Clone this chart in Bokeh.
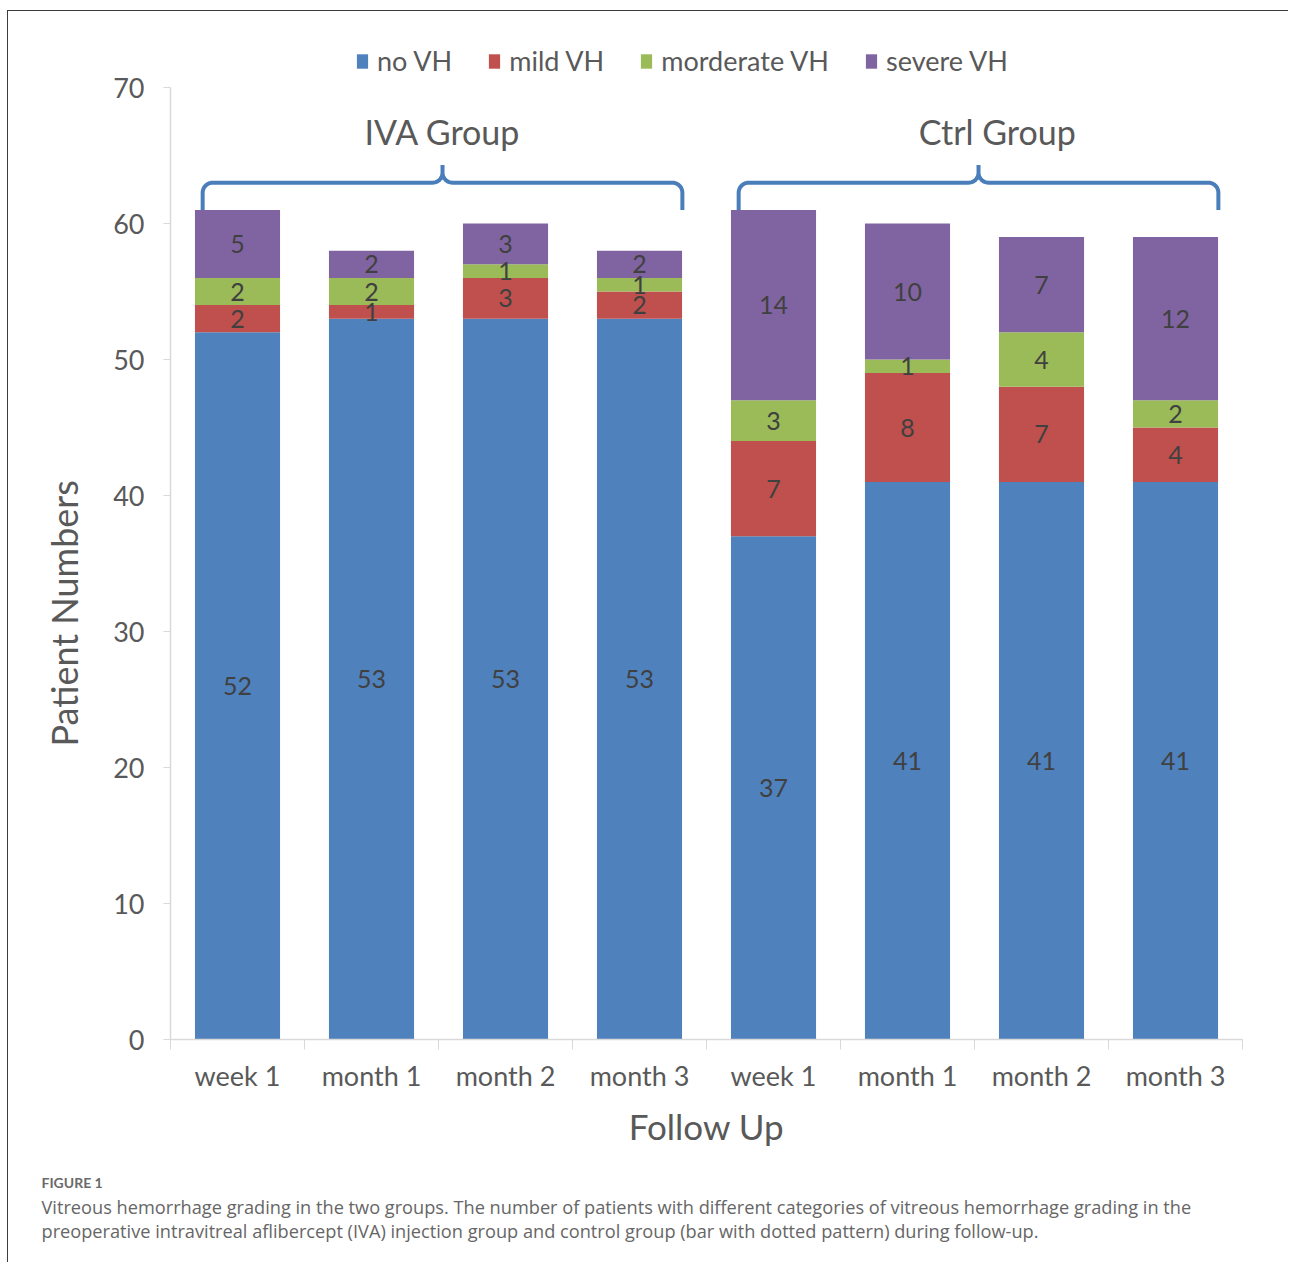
import math
from bokeh.plotting import figure
from bokeh.models import (ColumnDataSource, Range1d, FixedTicker, Legend, LegendItem,
                          Label, Title)
from bokeh.core.properties import value
from bokeh.embed import file_html
from bokeh.resources import INLINE

# ---------------- data ----------------
categories = ["week 1", "month 1", "month 2", "month 3",
              "week 1", "month 1", "month 2", "month 3"]
groups = ["IVA Group", "Ctrl Group"]
series = ["no VH", "mild VH", "morderate VH", "severe VH"]
no_vh = [52, 53, 53, 53, 37, 41, 41, 41]
mild_vh = [2, 1, 3, 2, 7, 8, 7, 4]
moderate_vh = [2, 2, 1, 1, 3, 1, 4, 2]
severe_vh = [5, 2, 3, 2, 14, 10, 7, 12]
y_ticks = [0, 10, 20, 30, 40, 50, 60, 70]

colors = ["#4f81bd", "#c0504d", "#9bbb59", "#8064a2"]
FONT = "Lato"
TXT = "#595959"

values = [no_vh, mild_vh, moderate_vh, severe_vh]
keys = ["s0", "s1", "s2", "s3"]
xs = [i + 0.5 for i in range(len(categories))]
data = {"x": xs}
for k, v in zip(keys, values):
    data[k] = v
src = ColumnDataSource(data)

W, H = 1281, 1252
Y_MAX = y_ticks[-1]
Y_TOP = Y_MAX + 76 / 13.6   # head room above the axis for legend/labels
p = figure(width=W, height=H, output_backend="svg", toolbar_location=None,
           x_range=Range1d(0, len(categories)), y_range=Range1d(0, Y_TOP),
           min_border_left=162, min_border_right=47, min_border_top=0,
           min_border_bottom=224)
p.styles = {"margin-left": "7px", "margin-top": "10px",
            "border-left": "1.5px solid #3c3c3c", "border-top": "1.5px solid #3c3c3c"}
p.outline_line_color = None
p.xgrid.visible = False
p.ygrid.visible = False
p.background_fill_color = "white"
p.border_fill_color = "white"

renderers = p.vbar_stack(keys, x="x", width=0.635, source=src, color=colors,
                         line_color=None)

# data labels
lab_x, lab_y, lab_t = [], [], []
for i in range(len(categories)):
    base = 0
    for v in values:
        val = v[i]
        lab_x.append(xs[i])
        lab_y.append(base + val / 2)
        lab_t.append(str(val))
        base += val
p.text(x=lab_x, y=lab_y, text=lab_t, text_align="center", text_baseline="middle",
       text_font=value(FONT), text_font_size="25px", text_color="#404040")

# braces and group labels
def brace(x0, x1, yb=63.0, yt=61.0, ypk=64.3, rpx=10):
    rx = rpx / 134.0
    ry = rpx / 13.6
    xc = (x0 + x1) / 2
    n = 12
    pxs, pys = [x0], [yt]
    for j in range(n + 1):
        t = j / n * math.pi / 2
        pxs.append(x0 + rx - rx * math.cos(t)); pys.append(yb - ry + ry * math.sin(t))
    for j in range(n + 1):
        t = j / n * math.pi / 2
        pxs.append(xc - rx + rx * math.sin(t)); pys.append(yb + ry - ry * math.cos(t))
    pxs.append(xc); pys.append(ypk)
    for j in range(n + 1):
        t = j / n * math.pi / 2
        pxs.append(xc + rx * (1 - math.cos(t))); pys.append(yb + ry - ry * math.sin(t))
    for j in range(n + 1):
        t = j / n * math.pi / 2
        pxs.append(x1 - rx + rx * math.sin(t)); pys.append(yb - ry + ry * math.cos(t))
    pxs.append(x1); pys.append(yt)
    return pxs, pys

for g, name in enumerate(groups):
    x0 = g * 4 + 0.24
    x1 = g * 4 + 3.82
    bx, by = brace(x0, x1)
    p.line(bx, by, line_color="#4a7ebb", line_width=4)
    tx = (x0 + x1) / 2 + (0.0 if g == 0 else 0.14)
    p.add_layout(Label(x=tx, y=66.8, text=name, text_align="center",
                       text_baseline="middle", text_font=FONT,
                       text_font_size="34px", text_color=TXT))

# axes
ax = p.xaxis[0]
ax.ticker = FixedTicker(ticks=xs, minor_ticks=list(range(len(categories) + 1)))
ax.major_label_overrides = {x: c for x, c in zip(xs, categories)}
ax.major_tick_out = 0
ax.major_tick_in = 0
ax.minor_tick_out = 10
ax.minor_tick_in = 0
ax.minor_tick_line_color = "#d9d9d9"
ax.axis_line_color = "#d9d9d9"
ax.axis_line_width = 1.5
ax.major_label_standoff = 9
ax.major_label_text_font = FONT
ax.major_label_text_font_size = "27px"
ax.major_label_text_color = TXT
ax.axis_label = "Follow Up"
ax.axis_label_text_font = FONT
ax.axis_label_text_font_size = "35px"
ax.axis_label_text_font_style = "normal"
ax.axis_label_text_color = TXT
ax.axis_label_standoff = 10

ay = p.yaxis[0]
ay.bounds = (0, Y_MAX)
ay.ticker = FixedTicker(ticks=y_ticks, minor_ticks=[])
ay.major_tick_out = 7
ay.major_tick_in = 0
ay.major_tick_line_color = "#d9d9d9"
ay.axis_line_color = "#d9d9d9"
ay.axis_line_width = 1.5
ay.major_label_standoff = 19
ay.major_label_text_font = FONT
ay.major_label_text_font_size = "27px"
ay.major_label_text_color = TXT

# y title as a left-side title, placed lower like the source
p.add_layout(Title(text="Patient Numbers", align="left", offset=293,
                   text_font=FONT, text_font_size="36px", text_font_style="normal",
                   text_color=TXT, standoff=49), "left")

# legend (inside the head room above the axis)
items = [LegendItem(label=s, renderers=[r]) for s, r in zip(series, renderers)]
legend = Legend(items=items, orientation="horizontal", location=(185, 962),
                label_text_font=FONT, label_text_font_size="27px",
                label_text_color=TXT, glyph_width=14, glyph_height=18,
                label_standoff=8, spacing=35, padding=2, margin=0,
                border_line_color=None, background_fill_alpha=0)
p.add_layout(legend, "center")

# caption
cap_lines = [
    (" ", "1px", "normal", "#ffffff", 17, "Lato"),
    ("FIGURE 1", "14px", "bold", "#6a6a6a", 4, "Lato"),
    ("Vitreous hemorrhage grading in the two groups. The number of patients with different categories of vitreous hemorrhage grading in the",
     "18.2px", "normal", "#666666", 1, "Open Sans"),
    ("preoperative intravitreal aflibercept (IVA) injection group and control group (bar with dotted pattern) during follow-up.",
     "18.2px", "normal", "#666666", -5, "Open Sans"),
]
for text, fs, st, col, so, fnt in cap_lines:
    t = Title(text=text, align="left", offset=-129, text_font=fnt, text_font_size=fs,
              text_font_style=st, text_color=col, standoff=so)
    p.add_layout(t, "below")

open("out.html", "w").write(file_html(p, INLINE))
